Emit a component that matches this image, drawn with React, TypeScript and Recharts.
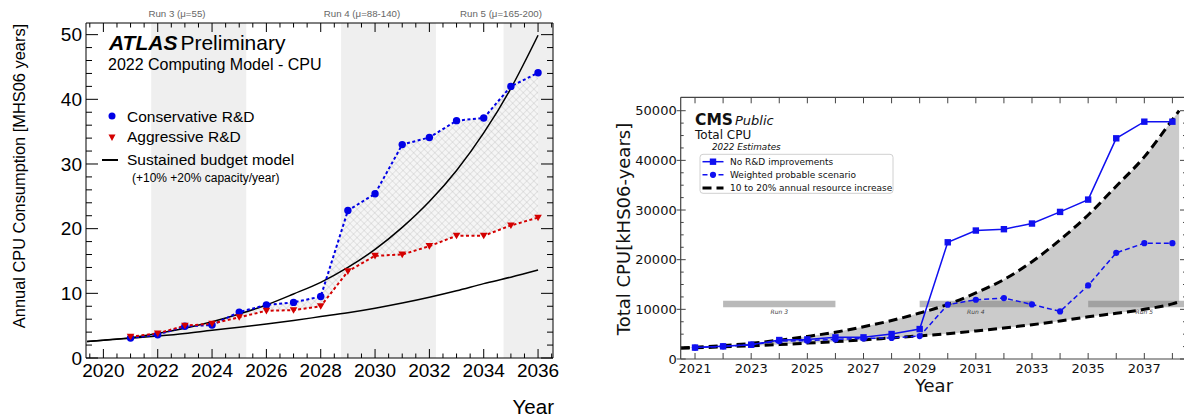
import React from "react";
import { Area, ComposedChart, Line, ReferenceArea, XAxis, YAxis } from "recharts";

const HELV = "'Liberation Sans', Arial, sans-serif";
const DEJA = "'DejaVu Sans', sans-serif";

// ---------- ATLAS (left) ----------
const atlasYears = [2021, 2022, 2023, 2024, 2025, 2026, 2027, 2028, 2029, 2030, 2031, 2032, 2033, 2034, 2035, 2036];
const atlasConservative = [3.1, 3.6, 4.9, 5.1, 7.1, 8.2, 8.6, 9.5, 22.8, 25.4, 33.0, 34.1, 36.7, 37.1, 42.0, 44.1];
const atlasAggressive = [3.3, 3.8, 5.0, 5.3, 6.3, 7.3, 7.4, 8.0, 13.4, 15.8, 16.0, 17.3, 18.9, 18.9, 20.5, 21.7];
const atlasCurveYears = [2019.4, 2020, 2021, 2022, 2023, 2024, 2025, 2026, 2027, 2028, 2029, 2030, 2031, 2032, 2033, 2034, 2035, 2036];
const atlasBudget20 = [2.55, 2.75, 3.15, 3.8, 4.6, 5.6, 6.8, 8.2, 9.9, 11.7, 14.0, 16.8, 20.2, 24.2, 29.0, 34.8, 41.7, 49.9];
const atlasBudget10 = [2.55, 2.75, 3.05, 3.4, 3.8, 4.3, 4.75, 5.25, 5.8, 6.4, 7.0, 7.7, 8.5, 9.4, 10.4, 11.5, 12.5, 13.6];
const atlasRuns = [
  { from: 2021.76, to: 2025.26 },
  { from: 2028.75, to: 2032.24 },
  { from: 2034.73, to: 2036.55 },
];
const atlasRunLabels = ["Run 3 (μ=55)", "Run 4 (μ=88-140)", "Run 5 (μ=165-200)"];
const atlasXTicks = Array.from({ length: 35 }, (_, i) => 2019.5 + i * 0.5);
const atlasYTicks = Array.from({ length: 26 }, (_, i) => i * 2);

const atlasRows = atlasCurveYears.map((yr, i) => {
  const j = atlasYears.indexOf(yr);
  return {
    yr,
    b20: atlasBudget20[i],
    b10: atlasBudget10[i],
    cons: j >= 0 ? atlasConservative[j] : null,
    aggr: j >= 0 ? atlasAggressive[j] : null,
    hatch: j >= 0 ? [atlasAggressive[j], atlasConservative[j]] : null,
  };
});

// ---------- CMS (right) ----------
const cmsYears = [2021, 2022, 2023, 2024, 2025, 2026, 2027, 2028, 2029, 2030, 2031, 2032, 2033, 2034, 2035, 2036, 2037, 2038];
const cmsNoRD = [2300, 2550, 2880, 3820, 3950, 4360, 4360, 5030, 6030, 23500, 25870, 26140, 27280, 29620, 32100, 44440, 47790, 47790];
const cmsWeighted = [2300, 2550, 2880, 3600, 3700, 3950, 4150, 4250, 4620, 10930, 11930, 12260, 10990, 9580, 14810, 21380, 23320, 23320];
const cmsCurveYears = [2020.49, 2021, 2022, 2023, 2024, 2025, 2026, 2027, 2028, 2029, 2030, 2031, 2032, 2033, 2034, 2035, 2036, 2037, 2038, 2038.24];
const cmsUpper = [2200, 2350, 2700, 3150, 3800, 4550, 5400, 6500, 7750, 9250, 11000, 13300, 16000, 19600, 24000, 29000, 34800, 40700, 48200, 50000];
const cmsLower = [2200, 2250, 2450, 2650, 2900, 3200, 3500, 3850, 4250, 4650, 5100, 5650, 6250, 6900, 7650, 8500, 9200, 10000, 11100, 11500];
const cmsRuns = [
  { label: "Run 3", from: 2022, to: 2026 },
  { label: "Run 4", from: 2029, to: 2033 },
  { label: "Run 5", from: 2035, to: 2039 },
];
const cmsRunBand = [10400, 11750];
const cmsXTicks = cmsYears;
const cmsYTicks = Array.from({ length: 21 }, (_, i) => i * 2500);

const cmsRows = cmsCurveYears.map((yr, i) => {
  const j = cmsYears.indexOf(yr);
  return {
    yr,
    upper: cmsUpper[i],
    lower: cmsLower[i],
    band: [cmsLower[i], cmsUpper[i]],
    noRD: j >= 0 ? cmsNoRD[j] : null,
    weighted: j >= 0 ? cmsWeighted[j] : null,
  };
});

// ---------- ticks (drawn inward, labels outward) ----------
const atlasBottomTick = ({ x, y, payload }: any) => {
  const v = payload.value;
  const major = v % 2 === 0;
  return (
    <g>
      <line x1={x} x2={x} y1={y} y2={y - (major ? 9 : 4.5)} stroke="#000" />
      {major && (
        <text x={x} y={y + 19} textAnchor="middle" fontFamily={HELV} fontSize={19} fill="#000">
          {v}
        </text>
      )}
    </g>
  );
};
const atlasTopTick = ({ x, y, payload }: any) => {
  const major = payload.value % 2 === 0;
  return <line x1={x} x2={x} y1={y} y2={y + (major ? 9 : 4.5)} stroke="#000" />;
};
const atlasLeftTick = ({ x, y, payload }: any) => {
  const v = payload.value;
  const major = v % 10 === 0;
  return (
    <g>
      <line x1={x} x2={x + (major ? 12 : 6)} y1={y} y2={y} stroke="#000" />
      {major && (
        <text x={x - 4} y={y} dy="0.36em" textAnchor="end" fontFamily={HELV} fontSize={19} fill="#000">
          {v}
        </text>
      )}
    </g>
  );
};
const atlasRightTick = ({ x, y, payload }: any) => {
  const major = payload.value % 10 === 0;
  return <line x1={x} x2={x - (major ? 12 : 6)} y1={y} y2={y} stroke="#000" />;
};

const cmsBottomTick = ({ x, y, payload }: any) => {
  const v = payload.value;
  return (
    <g>
      <line x1={x} x2={x} y1={y} y2={y - 6} stroke="#444" />
      {v % 2 === 1 && (
        <text x={x} y={y + 14} textAnchor="middle" fontFamily={DEJA} fontSize={13} fill="#111">
          {v}
        </text>
      )}
    </g>
  );
};
const cmsTopTick = ({ x, y }: any) => <line x1={x} x2={x} y1={y} y2={y + 6} stroke="#444" />;
const cmsLeftTick = ({ x, y, payload }: any) => {
  const v = payload.value;
  const major = v % 10000 === 0;
  return (
    <g>
      <line x1={major ? x - 4 : x} x2={x + (major ? 5 : 3)} y1={y} y2={y} stroke="#444" />
      {major && (
        <text x={x - 4} y={y} dy="0.36em" textAnchor="end" fontFamily={DEJA} fontSize={13} fill="#111">
          {v}
        </text>
      )}
    </g>
  );
};
const cmsRightTick = ({ x, y, payload }: any) => {
  const major = payload.value % 10000 === 0;
  return <line x1={x} x2={x - (major ? 7 : 4)} y1={y} y2={y} stroke="#444" />;
};

// ---------- markers ----------
const atlasDot = (p: any) =>
  p.value == null || p.cy == null ? <g key={p.index} /> : <circle key={p.index} cx={p.cx} cy={p.cy} r={3.7} fill="#0000e6" />;
const atlasTri = (p: any) =>
  p.value == null || p.cy == null ? (
    <g key={p.index} />
  ) : (
    <path key={p.index} d={`M${p.cx - 3.8},${p.cy - 3} L${p.cx + 3.8},${p.cy - 3} L${p.cx},${p.cy + 3.6} Z`} fill="#d40000" />
  );
const cmsSquare = (p: any) =>
  p.value == null || p.cy == null ? <g key={p.index} /> : <rect key={p.index} x={p.cx - 3.2} y={p.cy - 3.2} width={6.4} height={6.4} fill="#1010f0" />;
const cmsCircle = (p: any) =>
  p.value == null || p.cy == null ? <g key={p.index} /> : <circle key={p.index} cx={p.cx} cy={p.cy} r={3.1} fill="#1010f0" />;

function AtlasChart() {
  const axisLine = { stroke: "#000", strokeWidth: 1 };
  return (
    <ComposedChart width={580} height={417} data={atlasRows} margin={{ top: 22, right: 26, bottom: 58, left: 85 }}>
      <defs>
        <pattern id="xhatch" width="5" height="5" patternUnits="userSpaceOnUse" patternTransform="rotate(45)">
          <rect width="5" height="5" fill="#f5f5f5" />
          <line x1="0" y1="0" x2="0" y2="5" stroke="#bdbdbd" strokeWidth="0.7" />
          <line x1="0" y1="0" x2="5" y2="0" stroke="#bdbdbd" strokeWidth="0.7" />
        </pattern>
      </defs>
      <XAxis dataKey="yr" type="number" domain={[2019.36, 2036.55]} allowDataOverflow ticks={atlasXTicks} interval={0}
        height={1} tickSize={0} tickMargin={0} tickLine={false} axisLine={axisLine} tick={atlasBottomTick} />
      <XAxis xAxisId="top" orientation="top" dataKey="yr" type="number" domain={[2019.36, 2036.55]} allowDataOverflow
        ticks={atlasXTicks} interval={0} height={1} tickSize={0} tickMargin={0} tickLine={false} axisLine={axisLine} tick={atlasTopTick} />
      <YAxis type="number" domain={[0, 51.8]} allowDataOverflow ticks={atlasYTicks} interval={0} width={1}
        tickSize={0} tickMargin={0} tickLine={false} axisLine={axisLine} tick={atlasLeftTick} />
      <YAxis yAxisId="right" orientation="right" type="number" domain={[0, 51.8]} allowDataOverflow ticks={atlasYTicks}
        interval={0} width={1} tickSize={0} tickMargin={0} tickLine={false} axisLine={axisLine} tick={atlasRightTick} />
      {atlasRuns.map((r, i) => (
        <ReferenceArea key={i} x1={r.from} x2={r.to} fill="#efefef" fillOpacity={1} stroke="none" ifOverflow="hidden" />
      ))}
      <Area dataKey="hatch" type="linear" fill="url(#xhatch)" fillOpacity={1} stroke="none" isAnimationActive={false} />
      <Line dataKey="b20" type="monotone" stroke="#000" strokeWidth={1.5} dot={false} isAnimationActive={false} />
      <Line dataKey="b10" type="monotone" stroke="#000" strokeWidth={1.5} dot={false} isAnimationActive={false} />
      <Line dataKey="cons" type="linear" stroke="#0000e6" strokeWidth={2} strokeDasharray="3 2.5" dot={atlasDot} isAnimationActive={false} />
      <Line dataKey="aggr" type="linear" stroke="#d40000" strokeWidth={2} strokeDasharray="3 2.5" dot={atlasTri} isAnimationActive={false} />
    </ComposedChart>
  );
}

function CmsChart() {
  const axisLine = { stroke: "#444", strokeWidth: 1.2 };
  return (
    <ComposedChart width={600} height={417} data={cmsRows} margin={{ top: 96.3, right: 12, bottom: 57, left: 79.7 }}>
      <XAxis dataKey="yr" type="number" domain={[2020.49, 2038.52]} allowDataOverflow ticks={cmsXTicks} interval={0}
        height={1} tickSize={0} tickMargin={0} tickLine={false} axisLine={axisLine} tick={cmsBottomTick} />
      <XAxis xAxisId="top" orientation="top" dataKey="yr" type="number" domain={[2020.49, 2038.52]} allowDataOverflow
        ticks={cmsXTicks} interval={0} height={1} tickSize={0} tickMargin={0} tickLine={false} axisLine={axisLine} tick={cmsTopTick} />
      <YAxis type="number" domain={[0, 52700]} allowDataOverflow ticks={cmsYTicks} interval={0} width={1}
        tickSize={0} tickMargin={0} tickLine={false} axisLine={axisLine} tick={cmsLeftTick} />
      <YAxis yAxisId="right" orientation="right" type="number" domain={[0, 52700]} allowDataOverflow ticks={cmsYTicks}
        interval={0} width={1} tickSize={0} tickMargin={0} tickLine={false} axisLine={axisLine} tick={cmsRightTick} />
      <Area dataKey="band" type="monotone" fill="#cbcbcb" fillOpacity={1} stroke="none" isAnimationActive={false} />
      <Line dataKey="upper" type="monotone" stroke="#000" strokeWidth={3} strokeDasharray="9 5" dot={false} isAnimationActive={false} />
      <Line dataKey="lower" type="monotone" stroke="#000" strokeWidth={3} strokeDasharray="9 5" dot={false} isAnimationActive={false} />
      {cmsRuns.map((r, i) => (
        <ReferenceArea key={i} x1={r.from} x2={r.to} y1={cmsRunBand[0]} y2={cmsRunBand[1]} fill="#808080" fillOpacity={0.55}
          stroke="none" ifOverflow="hidden"
          label={{ value: r.label, position: "bottom", offset: 2, fontSize: 6, fontStyle: "italic", fill: "#444", fontFamily: DEJA }} />
      ))}
      <Line dataKey="weighted" type="linear" stroke="#1010f0" strokeWidth={1.5} strokeDasharray="5 3" dot={cmsCircle} connectNulls isAnimationActive={false} />
      <Line dataKey="noRD" type="linear" stroke="#1010f0" strokeWidth={1.5} dot={cmsSquare} connectNulls isAnimationActive={false} />
    </ComposedChart>
  );
}

function Overlay() {
  return (
    <svg width={1184} height={417} style={{ position: "absolute", left: 0, top: 0, pointerEvents: "none" }}>
      {/* ATLAS annotations */}
      <g fontFamily={HELV} fill="#000">
        <text x={177} y={17} textAnchor="middle" fontSize={9.7} fill="#666">{atlasRunLabels[0]}</text>
        <text x={362} y={17} textAnchor="middle" fontSize={9.7} fill="#666">{atlasRunLabels[1]}</text>
        <text x={501} y={17} textAnchor="middle" fontSize={9.7} fill="#666">{atlasRunLabels[2]}</text>
        <text x={109} y={50} fontSize={21}>
          <tspan fontWeight="bold" fontStyle="italic">ATLAS</tspan>
          <tspan dx={3}>Preliminary</tspan>
        </text>
        <text x={108} y={70} fontSize={16}>2022 Computing Model - CPU</text>
        <circle cx={112} cy={116} r={3.5} fill="#0000e6" />
        <text x={127} y={122} fontSize={15.5}>Conservative R&amp;D</text>
        <path d="M108.5,134.5 L115.5,134.5 L112,141 Z" fill="#d40000" />
        <text x={127} y={142} fontSize={15.5}>Aggressive R&amp;D</text>
        <line x1={102} x2={118} y1={160} y2={160} stroke="#000" strokeWidth={2} />
        <text x={127} y={165} fontSize={15.5}>Sustained budget model</text>
        <text x={132} y={182} fontSize={12}>(+10% +20% capacity/year)</text>
        <text x={554} y={414} textAnchor="end" fontSize={20.5}>Year</text>
        <text transform="translate(25,176) rotate(-90)" textAnchor="middle" fontSize={16.4}>
          Annual CPU Consumption  [MHS06 years]
        </text>
      </g>
      {/* CMS annotations */}
      <g fontFamily={DEJA} fill="#111">
        <text x={695} y={125} fontSize={15.5} fontWeight="bold">CMS</text>
        <text x={735} y={125} fontSize={13} fontStyle="italic">Public</text>
        <text x={695} y={138.5} fontSize={12}>Total CPU</text>
        <text x={712} y={150} fontSize={8.8} fontStyle="italic">2022 Estimates</text>
        <rect x={700} y={154.3} width={193} height={39} rx={3} fill="#fff" fillOpacity={0.85} stroke="#d0d0d0" />
        <line x1={702.5} x2={723.5} y1={161.7} y2={161.7} stroke="#1010f0" strokeWidth={1.5} />
        <rect x={709.8} y={158.5} width={6.4} height={6.4} fill="#1010f0" />
        <text x={730} y={161.7} dy="0.35em" fontSize={9}>No R&amp;D improvements</text>
        <line x1={702.5} x2={723.5} y1={174.8} y2={174.8} stroke="#1010f0" strokeWidth={1.5} strokeDasharray="5 3" />
        <circle cx={713} cy={174.8} r={3.1} fill="#1010f0" />
        <text x={730} y={174.8} dy="0.35em" fontSize={9}>Weighted probable scenario</text>
        <line x1={702.5} x2={723.5} y1={188} y2={188} stroke="#000" strokeWidth={3} strokeDasharray="9 5" />
        <text x={730} y={188} dy="0.35em" fontSize={9}>10 to 20% annual resource increase</text>
        <text x={934} y={392} textAnchor="middle" fontSize={18}>Year</text>
        <text transform="translate(630,229) rotate(-90)" textAnchor="middle" fontSize={18}>
          Total CPU[kHS06-years]
        </text>
      </g>
    </svg>
  );
}

export default function App() {
  return (
    <div style={{ position: "fixed", left: 0, top: 0, width: 1184, height: 417, overflow: "hidden", background: "#fff" }}>
      <div style={{ position: "absolute", left: 0, top: 0 }}>
        <AtlasChart />
      </div>
      <div style={{ position: "absolute", left: 600, top: 0 }}>
        <CmsChart />
      </div>
      <Overlay />
    </div>
  );
}
